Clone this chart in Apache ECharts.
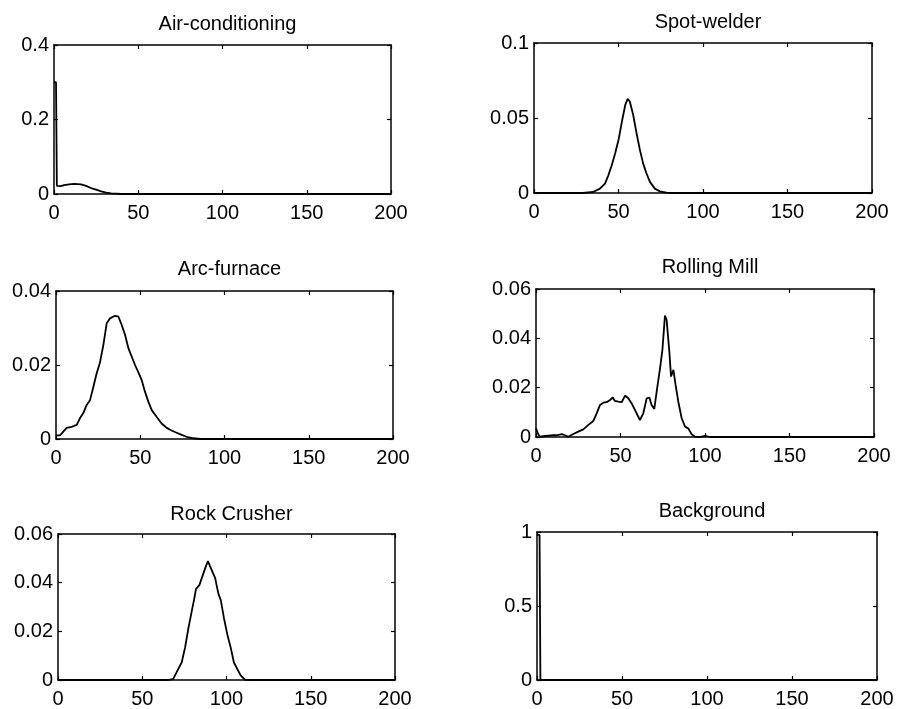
<!DOCTYPE html>
<html>
<head>
    <meta charset="utf-8">
    <title>Load distributions</title>
    <script src="https://cdn.jsdelivr.net/npm/echarts@6/dist/echarts.min.js"></script>
    <style>
        body { margin: 0; background: #fff; }
        #chart { width: 898px; height: 709px; }
    </style>
</head>
<body>
<div id="chart"></div>
<script type="text/javascript">
    // values, one x / y list per panel
    var acX = [0, 1.2, 1.7, 4, 6, 9, 12, 16, 19, 22, 25, 28, 31, 34, 37, 40, 200];
    var acY = [0.30, 0.30, 0.022, 0.021, 0.024, 0.026, 0.027, 0.026, 0.022, 0.016, 0.0116, 0.0072, 0.0036, 0.0018, 0.001, 0, 0];

    var swX = [0, 29, 35, 39, 42, 44, 46, 48, 50, 52, 54, 55.4, 56.7, 58.7, 60.7, 62.7, 64.6, 66.6, 68.6, 71.5, 74.5, 78.4, 82, 200];
    var swY = [0, 0, 0.0007, 0.0029, 0.0063, 0.0118, 0.0185, 0.0263, 0.0353, 0.0475, 0.0587, 0.0627, 0.061, 0.052, 0.0397, 0.0286, 0.0196, 0.0129, 0.0074, 0.0029, 0.0011, 0.0002, 0, 0];

    var afX = [0, 2.4, 6.3, 9.3, 12.3, 14.2, 16.2, 18.2, 20.2, 22.2, 24.1, 26.1, 28.1, 30.1, 32, 35, 37, 39, 41, 43, 44.9, 46.9, 48.9, 50.8, 52.8, 54.8, 56.8, 59.7, 62.7, 65.7, 68.6, 71.6, 74.6, 77.5, 81.5, 85.5, 200];
    var afY = [0.001, 0.001, 0.003, 0.0033, 0.0038, 0.0056, 0.007, 0.0092, 0.0105, 0.0141, 0.0177, 0.0207, 0.0254, 0.0313, 0.0326, 0.0333, 0.0331, 0.0308, 0.0281, 0.0245, 0.0223, 0.020, 0.018, 0.016, 0.0128, 0.0101, 0.0078, 0.006, 0.0042, 0.003, 0.0023, 0.0017, 0.0011, 0.0006, 0.0002, 0, 0];

    var rmX = [0, 1.4, 2.4, 5.3, 9.3, 12.2, 15.2, 17.2, 19.1, 22.1, 25, 28, 31, 33.9, 35.9, 37.9, 39.8, 41.8, 43.8, 45.4, 46.7, 48.7, 50.7, 52.7, 54.6, 56.6, 58.6, 61.5, 63.5, 65.5, 67.1, 68.4, 70, 71.4, 73.4, 74.8, 76.3, 77.3, 78.9, 79.9, 81.3, 82.6, 84.2, 86.2, 88.2, 90.1, 92.1, 94.1, 97, 100, 103, 200];
    var rmY = [0.0035, 0.001, 0.0001, 0.0004, 0.0007, 0.0007, 0.0012, 0.0007, 0.0001, 0.0012, 0.0022, 0.0031, 0.0049, 0.0065, 0.0096, 0.013, 0.0139, 0.0141, 0.015, 0.016, 0.0146, 0.0143, 0.0141, 0.0168, 0.0157, 0.0136, 0.0109, 0.0069, 0.0096, 0.0157, 0.016, 0.013, 0.0114, 0.0184, 0.0278, 0.0353, 0.0492, 0.0474, 0.0346, 0.0245, 0.0272, 0.0211, 0.0143, 0.0076, 0.0042, 0.0035, 0.0011, 0.0001, 0, 0.0005, 0, 0];

    var rcX = [0, 65.5, 68.4, 71.4, 73.4, 75.4, 77.4, 79.3, 80.7, 81.9, 83.9, 85.8, 87.8, 89, 90.2, 91.8, 93.2, 95.2, 96.6, 98.5, 100.5, 102.5, 104.4, 106.4, 108.4, 111, 114, 200];
    var rcY = [0, 0, 0.0005, 0.0046, 0.0072, 0.0133, 0.0213, 0.028, 0.0328, 0.0374, 0.039, 0.0428, 0.0468, 0.0489, 0.0468, 0.0442, 0.0421, 0.0354, 0.0328, 0.0254, 0.0187, 0.0133, 0.0072, 0.0046, 0.0019, 0.0001, 0, 0];

    var bgX = [0, 1.5, 2, 200];
    var bgY = [0.98, 0.98, 0, 0];

    var titles = ['Air-conditioning', 'Spot-welder', 'Arc-furnace', 'Rolling Mill', 'Rock Crusher', 'Background'];
    var xTicks = [0, 50, 100, 150, 200];
    var yMax = [0.4, 0.1, 0.04, 0.06, 0.06, 1];
    var yStep = [0.2, 0.05, 0.02, 0.02, 0.02, 0.5];

    var panels = [[acX, acY], [swX, swY], [afX, afY], [rmX, rmY], [rcX, rcY], [bgX, bgY]];

    // grid boxes in px: left, top, width, height
    var boxes = [
        [54, 45, 337, 149], [534, 43, 338, 150],
        [56, 291, 337, 148], [536, 289, 338, 148],
        [58, 534, 337, 149], [537, 532, 340, 149]
    ];
    var titleY = [22, 20, 267, 265, 512, 509];

    var font = 'Liberation Sans, Arial, Helvetica, sans-serif';
    var myChart = echarts.init(document.getElementById('chart'));

    function tickIn() {
        return {show: true, inside: true, length: 4, lineStyle: {color: '#000', width: 1.2}};
    }
    function frameLine() {
        // onZero off, otherwise top/right axes snap onto the zero line
        return {show: true, onZero: false, lineStyle: {color: '#000', width: 1.5}};
    }

    var grid = [], xAxis = [], yAxis = [], series = [], title = [];
    boxes.forEach(function (b, i) {
        grid.push({left: b[0], top: b[1], width: b[2], height: b[3], show: false});
        title.push({
            text: titles[i], left: b[0] + b[2] / 2, top: titleY[i] - 13, textAlign: 'center',
            textStyle: {fontFamily: font, fontSize: 20, fontWeight: 'normal', color: '#000'}
        });
        // bottom x axis with labels
        xAxis.push({
            gridIndex: i, type: 'value', min: xTicks[0], max: xTicks[xTicks.length - 1], interval: 50,
            position: 'bottom', axisLine: frameLine(), splitLine: {show: false}, axisTick: tickIn(),
            axisLabel: {fontFamily: font, fontSize: 20, color: '#000', margin: 9, showMinLabel: true, showMaxLabel: true}
        });
        // top x axis, ticks only
        xAxis.push({
            gridIndex: i, type: 'value', min: 0, max: 200, interval: 50, position: 'top',
            axisLine: frameLine(), splitLine: {show: false}, axisTick: tickIn(), axisLabel: {show: false}
        });
        yAxis.push({
            gridIndex: i, type: 'value', min: 0, max: yMax[i], interval: yStep[i], position: 'left',
            axisLine: frameLine(), splitLine: {show: false}, axisTick: tickIn(),
            axisLabel: {fontFamily: font, fontSize: 20, color: '#000', margin: 5}
        });
        yAxis.push({
            gridIndex: i, type: 'value', min: 0, max: yMax[i], interval: yStep[i], position: 'right',
            axisLine: frameLine(), splitLine: {show: false}, axisTick: tickIn(), axisLabel: {show: false}
        });
        var xs = panels[i][0], ys = panels[i][1];
        series.push({
            type: 'line', xAxisIndex: i * 2, yAxisIndex: i * 2, showSymbol: false, animation: false,
            lineStyle: {color: '#000', width: 1.8},
            data: xs.map(function (x, k) { return [x, ys[k]]; })
        });
    });

    myChart.setOption({
        backgroundColor: '#fff',
        animation: false,
        title: title,
        grid: grid,
        xAxis: xAxis,
        yAxis: yAxis,
        series: series
    });
</script>
</body>
</html>
